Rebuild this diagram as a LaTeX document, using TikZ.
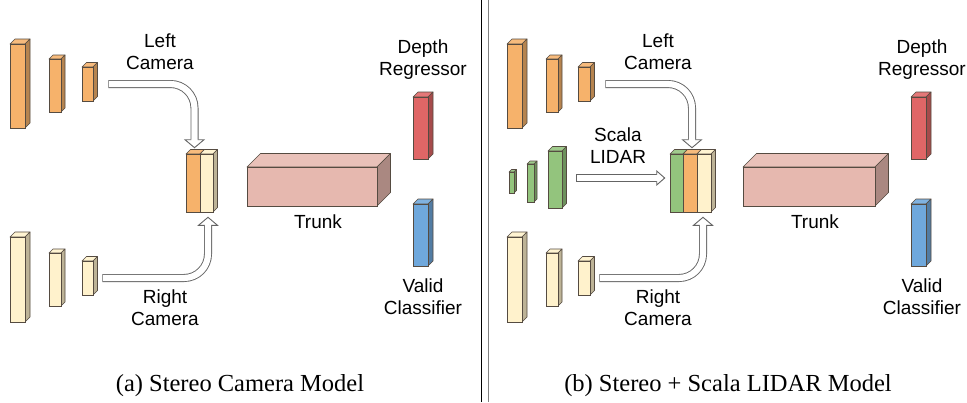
\documentclass[tikz,border=0pt]{standalone}
\usepackage{fontspec}
\setmainfont{Liberation Serif}
\setsansfont{Liberation Sans}
\usetikzlibrary{calc}
\definecolor{orF}{RGB}{246,178,107}
\definecolor{crF}{RGB}{255,242,204}
\definecolor{grF}{RGB}{147,196,125}
\definecolor{rdF}{RGB}{224,102,102}
\definecolor{blF}{RGB}{111,168,220}
\definecolor{trF}{RGB}{230,184,175}
\definecolor{edge}{RGB}{85,75,65}
\definecolor{arrowgray}{RGB}{100,100,100}
% cuboid: name, x, y (top-left of front face, px), w, h, depth, colour
\newcommand\cub[7]{%
  \filldraw[fill=#7!88!white, draw=edge, line width=0.6pt, line join=round]
    (#2,#3) -- ++(#6,-#6) -- ++(#4,0) -- ({#2+#4},#3) -- cycle;
  \filldraw[fill=#7!74!black, draw=edge, line width=0.6pt, line join=round]
    ({#2+#4},#3) -- ++(#6,-#6) -- ++(0,#5) -- ({#2+#4},{#3+#5}) -- cycle;
  \node[draw=edge, line width=0.6pt, fill=#7, inner sep=0pt,
        minimum width=#4pt, minimum height=#5pt] (#1) at ({#2+#4/2},{#3+#5/2}) {};
}
% hollow arrow: path, base, tip, half head width
\newcommand\harrow[4]{%
  \draw[line width=8pt, arrowgray, rounded corners=24pt] #1;
  \filldraw[fill=white, draw=arrowgray, line width=0.9pt, line join=miter]
    ($(#2)!#4pt!90:(#3)$) -- (#3) -- ($(#2)!#4pt!-90:(#3)$) -- cycle;
  \draw[line width=6.2pt, white, rounded corners=24pt, shorten <=0.9pt, shorten >=-1.2pt] #1;
}
\begin{document}
\begin{tikzpicture}[x=1pt,y=-1pt,
  lab/.style={font=\sffamily\fontsize{19}{22}\selectfont, align=center, inner sep=0pt},
  captxt/.style={font=\fontsize{24.5}{27}\selectfont, inner sep=0pt}]
\useasboundingbox (0,0) rectangle (967,402);
\fill[white] (0,0) rectangle (967,402);

% ---------------- left panel ----------------
\cub{o1L}{10}{44}{15}{84}{5}{orF}
\cub{o2L}{49}{59}{12}{53}{4}{orF}
\cub{o3L}{82}{67}{11}{34}{4.5}{orF}
\cub{c1L}{10}{237}{15}{85}{5}{crF}
\cub{c2L}{49}{253}{12}{53}{4}{crF}
\cub{c3L}{82}{261}{11}{34}{4.5}{crF}
\cub{kLo}{186}{154}{14}{58}{4.5}{orF}
\cub{kLc}{200}{154}{13}{58}{4.5}{crF}
\cub{trL}{247}{167}{130}{39}{13.5}{trF}
\cub{drL}{413}{97}{15}{62}{5}{rdF}
\cub{vcL}{413}{204}{15}{62}{5}{blF}

\coordinate (sA1) at ([xshift=15pt]o3L.east);
\coordinate (tA1) at ([xshift=1.5pt,yshift=6pt]kLo.north);
\coordinate (bA1) at ([xshift=1.5pt,yshift=14pt]kLo.north);
\harrow{(sA1) -| (bA1)}{bA1}{tA1}{9.5}
\coordinate (sA2) at ([xshift=9pt]c3L.east);
\coordinate (tA2) at ([xshift=1.5pt,yshift=-5pt]kLc.south);
\coordinate (bA2) at ([xshift=1.5pt,yshift=-13pt]kLc.south);
\harrow{(sA2) -| (bA2)}{bA2}{tA2}{9.5}

\node[lab] (lcL) at (160,51.5) {Left\\Camera};
\node[lab] (rcL) at (165,307.5) {Right\\Camera};
\node[lab] (tkL) at (318,222) {Trunk};
\node[lab] (dpL) at (423,60) {Depth\\Regressor};
\node[lab] (vdL) at (423,297) {Valid\\Classifier};

% ---------------- divider ----------------
\draw[black, line width=1pt] (481,0) -- (481,402);
\draw[gray, line width=1pt] (488,0) -- (488,402);

% ---------------- right panel ----------------
\cub{o1R}{507}{44}{15}{84}{5}{orF}
\cub{o2R}{546}{59}{12}{53}{4}{orF}
\cub{o3R}{578}{67}{12}{34}{4.5}{orF}
\cub{g1R}{509}{172}{5}{21}{2.5}{grF}
\cub{g2R}{527}{164}{7}{38}{3}{grF}
\cub{g3R}{548}{151}{14}{57}{4.5}{grF}
\cub{c1R}{507}{237}{15}{85}{5}{crF}
\cub{c2R}{546}{253}{12}{53}{4}{crF}
\cub{c3R}{578}{261}{12}{34}{4.5}{crF}
\cub{kRg}{670}{154}{13}{58}{4.5}{grF}
\cub{kRo}{683}{154}{14}{58}{4.5}{orF}
\cub{kRc}{697}{154}{14}{58}{4.5}{crF}
\cub{trR}{743}{167}{132}{39}{13.5}{trF}
\cub{drR}{911}{97}{15}{62}{5}{rdF}
\cub{vcR}{911}{204}{15}{62}{5}{blF}

\coordinate (sA3) at ([xshift=15pt]o3R.east);
\coordinate (tA3) at ([xshift=2pt,yshift=6pt]kRo.north);
\coordinate (bA3) at ([xshift=2pt,yshift=14pt]kRo.north);
\harrow{(sA3) -| (bA3)}{bA3}{tA3}{9.5}
\coordinate (sA4) at ([xshift=14pt,yshift=1.5pt]g3R.east);
\coordinate (kA4) at (sA4 -| kRg.west);
\coordinate (tA4) at ([xshift=-5pt]kA4);
\coordinate (bA4) at ([xshift=-13pt]kA4);
\harrow{(sA4) -- (bA4)}{bA4}{tA4}{7}
\coordinate (sA5) at ([xshift=9pt]c3R.east);
\coordinate (tA5) at ([xshift=-1pt,yshift=-5pt]kRc.south);
\coordinate (bA5) at ([xshift=-1pt,yshift=-13pt]kRc.south);
\harrow{(sA5) -| (bA5)}{bA5}{tA5}{9.5}

\node[lab] (lcR) at (658,51.5) {Left\\Camera};
\node[lab] (slR) at (618,146) {Scala\\LIDAR};
\node[lab] (rcR) at (658,307.5) {Right\\Camera};
\node[lab] (tkR) at (815,222) {Trunk};
\node[lab] (dpR) at (922,60) {Depth\\Regressor};
\node[lab] (vdR) at (922,297) {Valid\\Classifier};

% ---------------- captions ----------------
\node[captxt] (capA) at (240,386) {(a) Stereo Camera Model};
\node[captxt] (capB) at (728,386) {(b) Stereo + Scala LIDAR Model};
\end{tikzpicture}
\end{document}
